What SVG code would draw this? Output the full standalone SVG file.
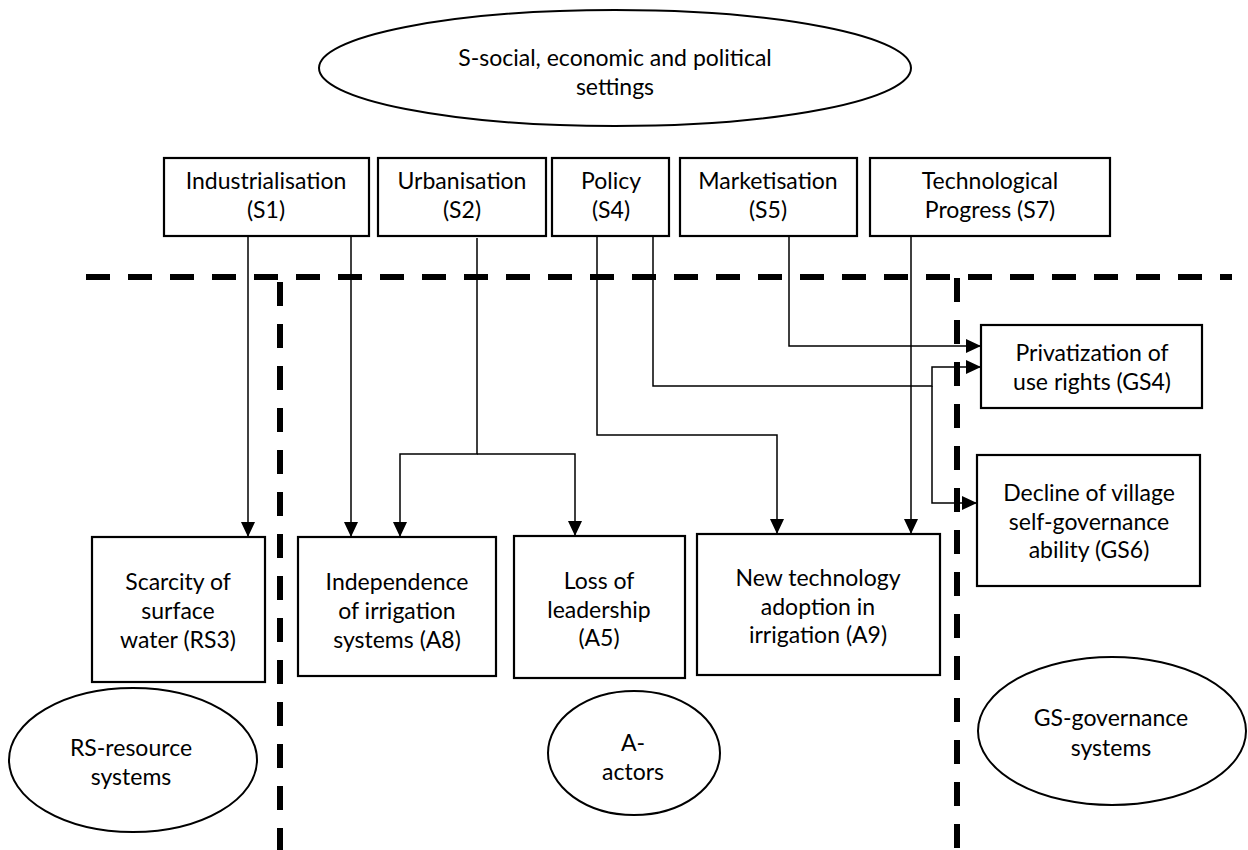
<svg xmlns="http://www.w3.org/2000/svg" width="1248" height="850" viewBox="0 0 1248 850">
<style>
.box{fill:#fff;stroke:#000;stroke-width:2.2}
.ell{fill:#fff;stroke:#000;stroke-width:2}
.t{font-family:Lato,"Liberation Sans",sans-serif;font-size:23px;fill:#000;text-anchor:middle}
.c{fill:none;stroke:#000;stroke-width:1.5}
.dash{fill:none;stroke:#000;stroke-width:6;stroke-dasharray:24 18}
</style>
<defs>
<marker id="ah" markerWidth="15" markerHeight="14" refX="15" refY="7" orient="auto" markerUnits="userSpaceOnUse"><path d="M0,0 L15,7 L0,14 z" fill="#000"/></marker>
</defs>
<rect width="1248" height="850" fill="#fff"/>
<g id="dividers">
<line class="dash" x1="86" y1="277" x2="1232" y2="277"/>
<line class="dash" x1="280" y1="282" x2="280" y2="850"/>
<line class="dash" x1="957" y1="278" x2="957" y2="850"/>
</g>
<g id="S">
<ellipse class="ell" cx="615" cy="68" rx="296" ry="58"/>
<text class="t" x="615" y="66">S-social, economic and political</text>
<text class="t" x="615" y="95">settings</text>
</g>
<g id="S1"><rect class="box" x="164" y="158" width="205" height="78"/><text class="t" x="266" y="189">Industrialisation</text><text class="t" x="266" y="218">(S1)</text></g>
<g id="S2"><rect class="box" x="378" y="158" width="168" height="78"/><text class="t" x="462" y="189">Urbanisation</text><text class="t" x="462" y="218">(S2)</text></g>
<g id="S4"><rect class="box" x="552" y="158" width="117" height="78"/><text class="t" x="611" y="189">Policy</text><text class="t" x="611" y="218">(S4)</text></g>
<g id="S5"><rect class="box" x="680" y="158" width="177" height="78"/><text class="t" x="768" y="189">Marketisation</text><text class="t" x="768" y="218">(S5)</text></g>
<g id="S7"><rect class="box" x="870" y="158" width="240" height="78"/><text class="t" x="990" y="189">Technological</text><text class="t" x="990" y="218">Progress (S7)</text></g>
<g id="GS4"><rect class="box" x="981" y="325" width="221" height="83"/><text class="t" x="1092" y="361">Privatization of</text><text class="t" x="1092" y="390">use rights (GS4)</text></g>
<g id="GS6"><rect class="box" x="977" y="455" width="223" height="131"/><text class="t" x="1089" y="501">Decline of village</text><text class="t" x="1089" y="530">self-governance</text><text class="t" x="1089" y="558">ability (GS6)</text></g>
<g id="RS3"><rect class="box" x="92" y="537" width="173" height="145"/><text class="t" x="178" y="590">Scarcity of</text><text class="t" x="178" y="619">surface</text><text class="t" x="178" y="648">water (RS3)</text></g>
<g id="A8"><rect class="box" x="298" y="537" width="198" height="139"/><text class="t" x="397" y="590">Independence</text><text class="t" x="397" y="619">of irrigation</text><text class="t" x="397" y="648">systems (A8)</text></g>
<g id="A5"><rect class="box" x="514" y="536" width="171" height="142"/><text class="t" x="599" y="589">Loss of</text><text class="t" x="599" y="618">leadership</text><text class="t" x="599" y="646">(A5)</text></g>
<g id="A9"><rect class="box" x="697" y="534" width="243" height="141"/><text class="t" x="818" y="586">New technology</text><text class="t" x="818" y="615">adoption in</text><text class="t" x="818" y="643">irrigation (A9)</text></g>
<g id="RS"><ellipse class="ell" cx="133" cy="760" rx="124" ry="72"/><text class="t" x="131" y="756">RS-resource</text><text class="t" x="131" y="785">systems</text></g>
<g id="A"><ellipse class="ell" cx="634" cy="753" rx="86" ry="62"/><text class="t" x="633" y="751">A-</text><text class="t" x="633" y="780">actors</text></g>
<g id="GS"><ellipse class="ell" cx="1112" cy="731" rx="134" ry="74"/><text class="t" x="1111" y="726">GS-governance</text><text class="t" x="1111" y="756">systems</text></g>
<g id="connectors">
<path class="c" d="M248,236 V537" marker-end="url(#ah)"/>
<path class="c" d="M351,236 V537" marker-end="url(#ah)"/>
<path class="c" d="M477,238 V454 H400 V537" marker-end="url(#ah)"/>
<path class="c" d="M477,454 H575 V536" marker-end="url(#ah)"/>
<path class="c" d="M597,236 V435 H777 V534" marker-end="url(#ah)"/>
<path class="c" d="M653,236 V386 H932 V367 H981" marker-end="url(#ah)"/>
<path class="c" d="M932,386 V503 H977" marker-end="url(#ah)"/>
<path class="c" d="M789,236 V346 H981" marker-end="url(#ah)"/>
<path class="c" d="M911,236 V534" marker-end="url(#ah)"/>
</g>
</svg>
